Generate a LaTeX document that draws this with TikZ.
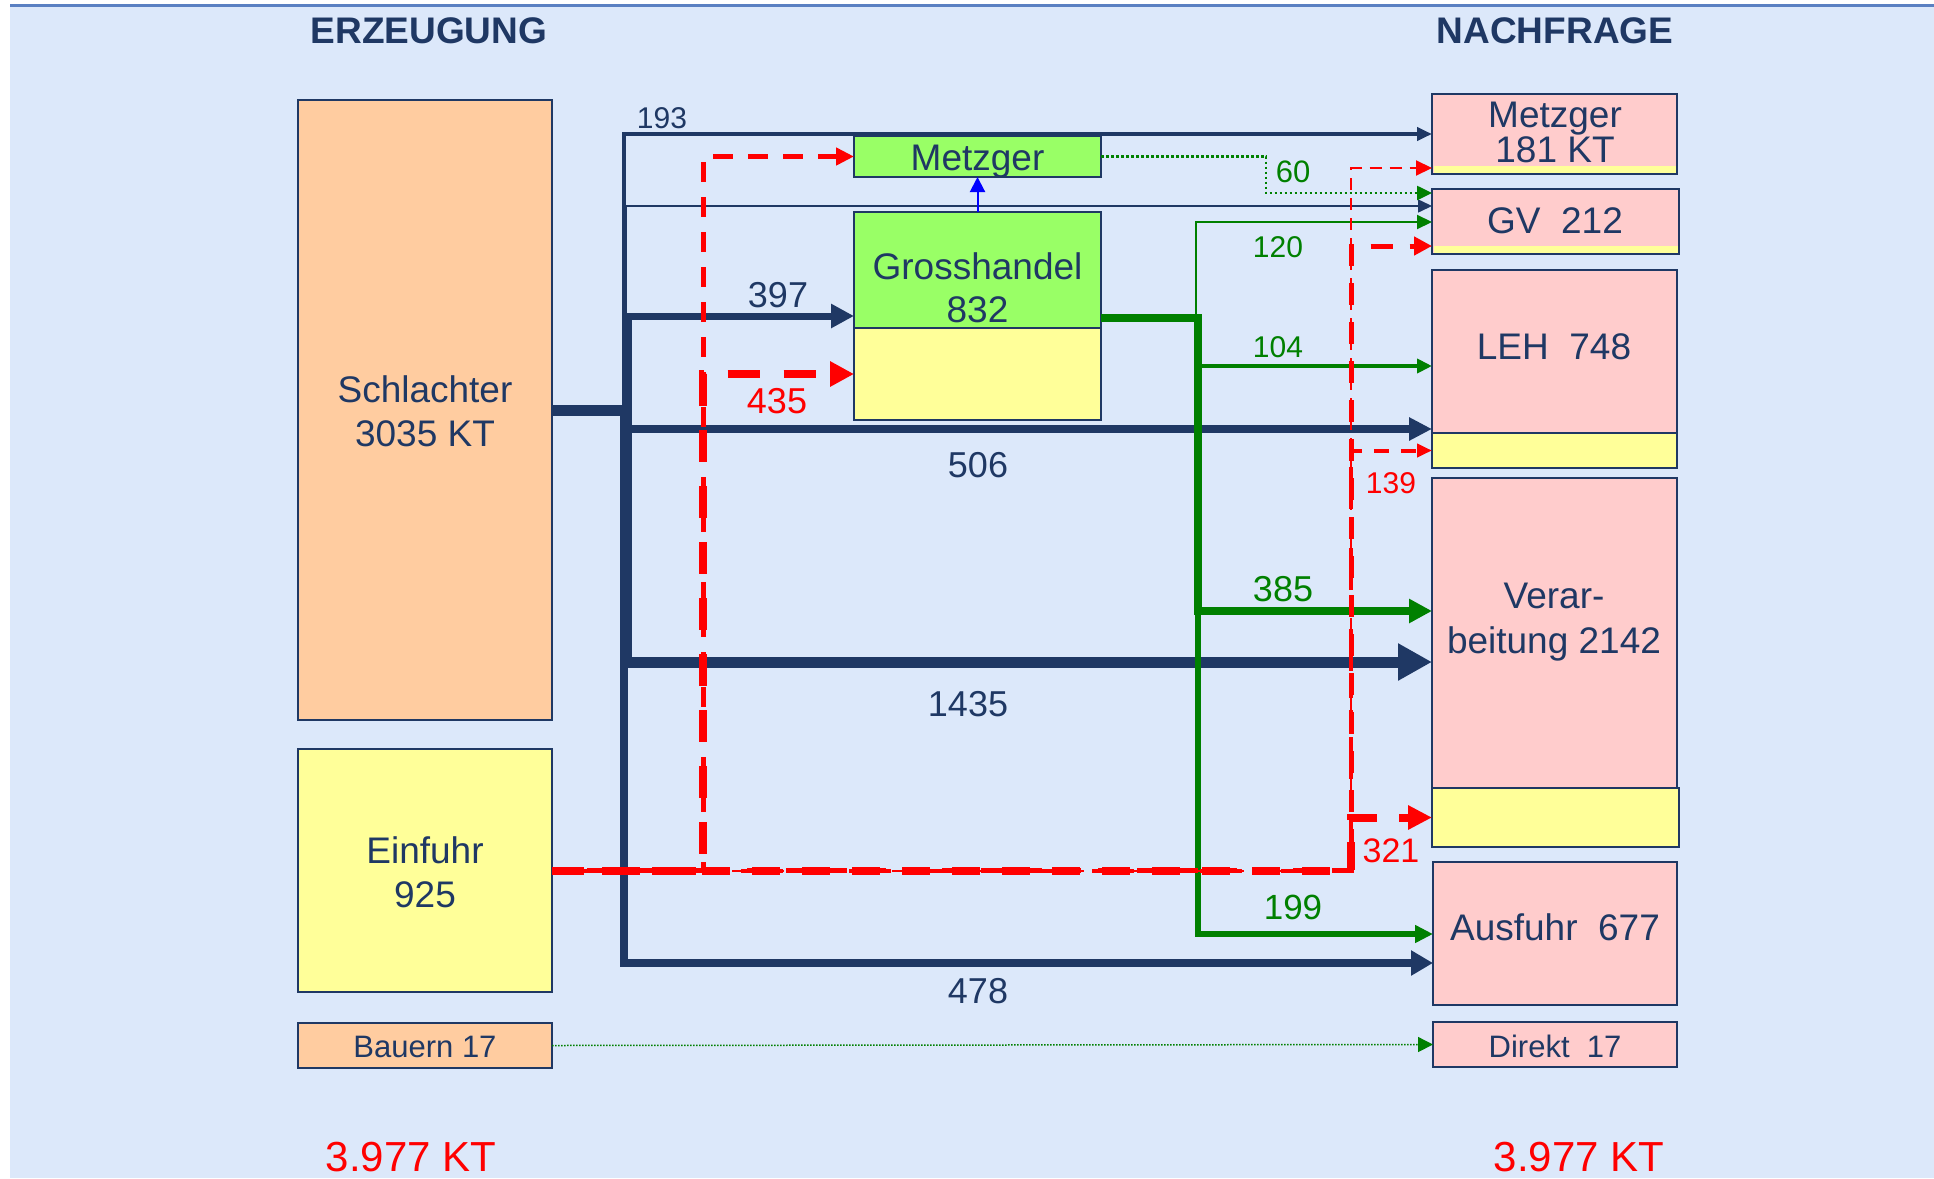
\documentclass[tikz,border=0pt]{standalone}
\usepackage{fontspec}
\setmainfont{Liberation Sans}
\usetikzlibrary{arrows.meta}
\definecolor{bg}{HTML}{DCE8FA}
\definecolor{topline}{HTML}{5A80C2}
\definecolor{navy}{HTML}{1F3864}
\definecolor{peach}{HTML}{FFCCA0}
\definecolor{pinkbox}{HTML}{FFCCCC}
\definecolor{yel}{HTML}{FFFF99}
\definecolor{lgreen}{HTML}{99FF66}
\definecolor{dgreen}{HTML}{008000}
\definecolor{rd}{HTML}{FF0000}
\definecolor{bl}{HTML}{0000FF}
\newcommand\myfs[2]{\fontsize{#1pt}{#2pt}\selectfont}
\begin{document}
\begin{tikzpicture}[x=1pt,y=-1pt,
  box/.style={draw=navy, line width=2pt, inner sep=0pt, outer sep=0pt},
  txt/.style={inner sep=0pt, outer sep=0pt, anchor=base, align=center, text=navy},
  arr/.style 2 args={-{Triangle[length=#1pt,width=#2pt]}},
  navyline/.style={draw=navy, line join=miter},
  greenline/.style={draw=dgreen, line join=miter},
  redline/.style={draw=rd, line join=miter}]
\useasboundingbox (0,0) rectangle (1934,1178);
\fill[bg] (10,6) rectangle (1934,1178);
\draw[topline, line width=3pt] (10,5) -- (1934,5);

% headings
\node[txt, font=\bfseries\myfs{37}{44}] (erz) at (429,43) {ERZEUGUNG};
\node[txt, font=\bfseries\myfs{37}{44}] (nach) at (1555,43) {NACHFRAGE};

% left boxes
\node[box, fill=peach, minimum width=254pt, minimum height=620pt] (schl) at (425,410) {};
\node[box, fill=yel, minimum width=254pt, minimum height=243pt] (einf) at (425,870.5) {};
\node[box, fill=peach, minimum width=254pt, minimum height=45pt] (bauern) at (425,1045.5) {};

% middle boxes
\node[box, fill=lgreen, minimum width=247pt, minimum height=41pt] (metzM) at (977.5,156.5) {};
\node[box, fill=lgreen, minimum width=247pt, minimum height=208pt] (gross) at (977.5,316) {};
\node[box, fill=yel, minimum width=247pt, minimum height=92pt] (grossY) at (977.5,374) {};

% right boxes
\node[box, fill=pinkbox, minimum width=245pt, minimum height=80pt] (m181) at (1554.5,134) {};
\fill[yel] (1433.5,166) rectangle (1675.5,173);
\node[box, fill=pinkbox, minimum width=247pt, minimum height=65pt] (gv) at (1555.5,221.5) {};
\fill[yel] (1433.5,246) rectangle (1677.5,253);
\node[box, fill=pinkbox, minimum width=245pt, minimum height=163pt] (leh) at (1554.5,351.5) {};
\node[box, fill=yel, minimum width=245pt, minimum height=35pt] (lehY) at (1554.5,450.5) {};
\node[box, fill=pinkbox, minimum width=245pt, minimum height=310pt] (verar) at (1554.5,633) {};
\node[box, fill=yel, minimum width=247pt, minimum height=59pt] (verarY) at (1555.5,817.5) {};
\node[box, fill=pinkbox, minimum width=244pt, minimum height=143pt] (ausf) at (1555,933.5) {};
\node[box, fill=pinkbox, minimum width=244pt, minimum height=45pt] (direkt) at (1555,1044.5) {};

% box texts (multi-line nodes: base = last line)
\node[txt, font=\myfs{37}{44}] (schlT) at (425,446) {Schlachter\\3035 KT};
\node[txt, font=\myfs{37}{44}] (einfT) at (425,907) {Einfuhr\\925};
\node[txt, font=\myfs{31}{36}] (bauernT) at (425,1057) {Bauern 17};
\node[txt, font=\myfs{37}{44}] (metzMT) at (977.5,170) {Metzger};
\node[txt, font=\myfs{37}{43}] (grossT) at (977.5,322) {Grosshandel\\832};
\node[txt, font=\myfs{37}{35}] (m181T) at (1555,162) {Metzger\\181 KT};
\node[txt, font=\myfs{37}{44}] (gvT) at (1555,233) {GV~~212};
\node[txt, font=\myfs{37}{44}] (lehT) at (1554,359) {LEH~~748};
\node[txt, font=\myfs{37}{45}] (verarT) at (1554,653) {Verar-\\beitung 2142};
\node[txt, font=\myfs{37}{44}] (ausfT) at (1555,940) {Ausfuhr~~677};
\node[txt, font=\myfs{31}{36}] (direktT) at (1555,1057) {Direkt~~17};

% navy connectors
\draw[navyline, line width=4pt, arr={15}{13}] (schl.east) -- (624,410) |- (m181.west);
\draw[navyline, line width=1.5pt, arr={14}{13}] (schl.east) -- (626,410) |- (gv.west |- 0,206);
\draw[navyline, line width=7pt, arr={23}{23}] (schl.east) -- (628,410) |- (gross.west);
\draw[navyline, line width=8pt, arr={23}{22}] (schl.east) -- (626,410) |- (leh.west |- 0,429);
\draw[navyline, line width=8pt, arr={22}{24}] (schl.east) -- (624,410) |- (ausf.west |- 0,963);
\draw[navyline, line width=11pt, arr={34}{35}] (schl.east) -- (626.5,410) |- (verar.west |- 0,662);

% blue
\draw[bl, line width=2pt, arr={15}{15}] (gross.north) -- (metzM.south);

% green connectors
\draw[greenline, line width=8pt, arr={23}{23}] (gross.east |- 0,318) -- (1198,318) |- (verar.west |- 0,611);
\draw[greenline, line width=5.5pt, arr={18}{17}] (gross.east |- 0,318) -- (1198,318) |- (ausf.west |- 0,934);
\draw[greenline, line width=4pt, arr={15}{14}] (gross.east |- 0,318) -- (1198,318) |- (leh.west |- 0,366);
\draw[greenline, line width=2pt, arr={15}{14}] (gross.east |- 0,318) -- (1196,318) |- (gv.west |- 0,222);
\draw[greenline, line width=2.5pt, dash pattern=on 2.5pt off 2.5pt, arr={15}{14}] (metzM.east) -- (1266,156.5) |- (gv.west |- 0,193);
\draw[greenline, line width=1.5pt, dash pattern=on 1.5pt off 1.5pt, arr={15}{15}] (bauern.east) -- (direkt.west);

% red connectors
\draw[redline, line width=5pt, dash pattern=on 20pt off 15pt, arr={18}{17}] (einf.east) -| (703,156.5) -- (metzM.west);
\draw[redline, line width=8pt, dash pattern=on 32pt off 24pt, arr={24}{24}] (einf.east) -| (703,374) -- (grossY.west);
\draw[redline, line width=2pt, dash pattern=on 12pt off 8pt, arr={16}{15}] (einf.east) -| (1351,168) -- (m181.west |- 0,168);
\draw[redline, line width=5pt, dash pattern=on 22pt off 17pt, arr={18}{18}] (einf.east) -| (1351,246) -- (gv.west |- 0,246);
\draw[redline, line width=4pt, dash pattern=on 15pt off 12pt, arr={15}{13}] (einf.east) -| (1351,450.5) -- (lehY.west);
\draw[redline, line width=8pt, dash pattern=on 28pt off 22pt, arr={24}{23}] (einf.east) -| (1351,817.5) -- (verarY.west);

% flow labels
\node[txt, font=\myfs{30}{36}] (l193) at (662,128) {193};
\node[txt, font=\myfs{36}{42}] (l397) at (778,307) {397};
\node[txt, font=\myfs{36}{42}, text=rd] (l435) at (777,413) {435};
\node[txt, font=\myfs{36}{42}] (l506) at (978,477) {506};
\node[txt, font=\myfs{36}{42}] (l1435) at (968,716) {1435};
\node[txt, font=\myfs{36}{42}] (l478) at (978,1003) {478};
\node[txt, font=\myfs{31}{36}, text=dgreen] (l60) at (1293,182) {60};
\node[txt, font=\myfs{30}{36}, text=dgreen] (l120) at (1278,257) {120};
\node[txt, font=\myfs{30}{36}, text=dgreen] (l104) at (1278,357) {104};
\node[txt, font=\myfs{36}{42}, text=dgreen] (l385) at (1283,601) {385};
\node[txt, font=\myfs{35}{42}, text=dgreen] (l199) at (1293,919) {199};
\node[txt, font=\myfs{30}{36}, text=rd] (l139) at (1391,493) {139};
\node[txt, font=\myfs{34}{40}, text=rd] (l321) at (1391,862) {321};

% totals
\node[txt, font=\myfs{42}{50}, text=rd] (totL) at (411,1171) {3.977 KT};
\node[txt, font=\myfs{42}{50}, text=rd] (totR) at (1579,1171) {3.977 KT};
\end{tikzpicture}
\end{document}
